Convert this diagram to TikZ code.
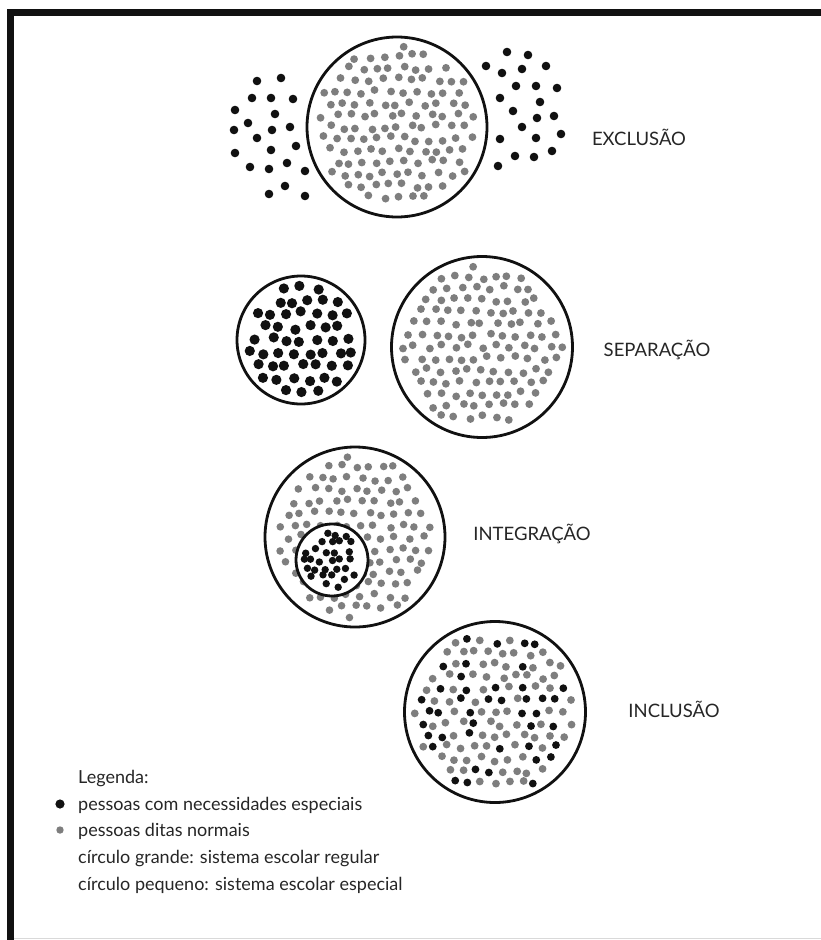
\documentclass[tikz,border=0pt]{standalone}
\usepackage{fontspec}
\setmainfont{Lato}
\usepackage{tikz}
\usetikzlibrary{positioning}
\usepackage{xcolor}
\definecolor{ink}{HTML}{111111}
\definecolor{dotgray}{HTML}{7E7E7E}
\definecolor{textgray}{HTML}{262626}
\tikzset{
  ring/.style={circle, draw=ink, line width=2.8pt, inner sep=0pt},
  blackdot/.style={fill=ink},
  graydot/.style={fill=dotgray},
  caption/.style={anchor=base, text=textgray, font=\fontsize{18.5}{20}\selectfont},
  legendtext/.style={anchor=base west, text=textgray, inner sep=0pt, font=\fontsize{18}{20}\selectfont}
}
% dots scattered on a jittered grid inside a circle
% #1,#2 centre, #3 keep radius, #4 spacing, #5 share of black dots, #6 dot radius
\newcommand{\scatterdots}[6]{%
  \foreach \i in {-9,...,9}{
    \foreach \j in {-10,...,10}{
      \pgfmathsetmacro{\px}{#4*(\i+0.5*mod(\j,2))+2.8*rand}
      \pgfmathsetmacro{\py}{#4*0.87*\j+2.8*rand}
      \pgfmathsetmacro{\keep}{veclen(\px,\py)<#3?1:0}
      \pgfmathsetmacro{\dark}{rnd<#5?1:0}
      \ifdim\keep pt>0.5pt
        \ifdim\dark pt>0.5pt
          \fill[blackdot] (#1+\px,#2+\py) circle (#6);
        \else
          \fill[graydot] (#1+\px,#2+\py) circle (#6);
        \fi
      \fi
    }
  }
}

\begin{document}
\begin{tikzpicture}[x=1pt, y=-1pt]
  \pgfmathsetseed{7}
  \useasboundingbox[fill=white] (0,0) rectangle (821,940);

  % frame
  \fill[ink] (7,9) rectangle (821,16);
  \fill[ink] (7,9) rectangle (14,940);
  \draw[black!15, line width=1pt] (14,938) -- (821,938);

  % exclusion
  \scatterdots{397}{127}{81}{13.5}{0}{3.9}
  \node[ring, minimum size=180] (excl) at (397,127) {};
  \foreach \x/\y in {257/81, 281/78, 252/98, 271/98, 293/99, 235/110, 275/114, 248/123,
      234/130, 272/130, 290/127, 257/138, 296/146, 235/153, 271/150, 287/163,
      250/167, 269/169, 305/171, 285/186, 269/194, 305/196}
    \fill[blackdot] (\x,\y) circle (4.3);
  \foreach \x/\y in {507/52, 528/55, 486/66, 502/73, 522/69, 546/66, 516/86, 536/86,
      557/88, 500/98, 540/102, 513/111, 537/118, 554/116, 522/127, 561/134,
      500/139, 536/138, 515/156, 534/157, 552/151, 498/166}
    \fill[blackdot] (\x,\y) circle (4.3);
  \node[caption] (lblexcl) at (639,145) {EXCLUSÃO};

  % separation
  \scatterdots{301}{340}{55}{15}{1}{5.1}
  \node[ring, minimum size=128] (sepsmall) at (301,340) {};
  \scatterdots{482}{347}{81}{13.5}{0}{3.9}
  \node[ring, minimum size=181] (sepbig) at (482,347) {};
  \node[caption] (lblsep) at (657,356) {SEPARAÇÃO};

  % integration
  \scatterdots{355}{537}{81}{13.5}{0}{3.8}
  \node[ring, minimum size=180] (integ) at (355,537) {};
  \node[ring, fill=white, minimum size=72] (integin) at (332,560) {};
  \scatterdots{332}{560}{28}{10}{1}{3.7}
  \node[caption] (lblinteg) at (532,540) {INTEGRAÇÃO};

  % inclusion
  \scatterdots{495}{712}{81}{13.5}{0.38}{3.9}
  \node[ring, minimum size=181] (incl) at (495,712) {};
  \node[caption] (lblincl) at (674,717) {INCLUSÃO};

  % legend
  \node[legendtext] (leg) at (78,783) {Legenda:};
  \node[legendtext] (legblack) at (78,810) {pessoas com necessidades especiais};
  \node[legendtext] (leggray) at (78,836) {pessoas ditas normais};
  \node[legendtext] (legbig) at (78,863) {círculo grande: sistema escolar regular};
  \node[legendtext] (legsmall) at (78,890) {círculo pequeno: sistema escolar especial};
  \fill[blackdot] ([xshift=-18pt, yshift=6pt]legblack.base west) circle (4.6);
  \fill[graydot] ([xshift=-18pt, yshift=6pt]leggray.base west) circle (3.7);
\end{tikzpicture}
\end{document}
